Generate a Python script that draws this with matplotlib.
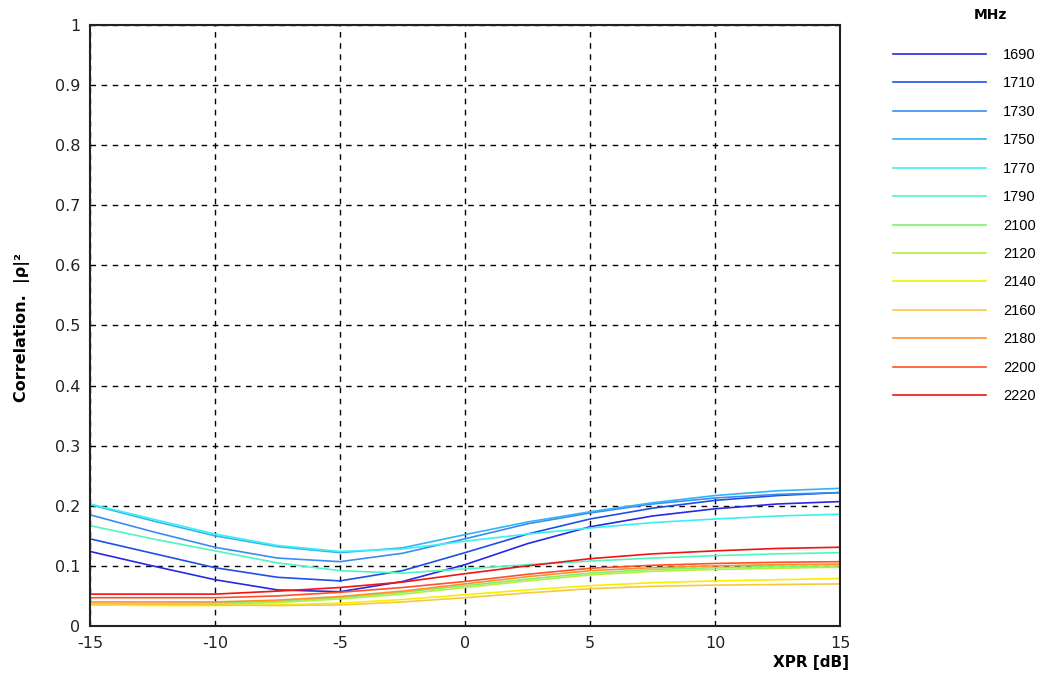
import numpy as np
import matplotlib
matplotlib.use('Agg')
from matplotlib import pyplot as plt

plt.rcParams['axes.unicode_minus'] = False

# XPR axis samples [dB]
xpr = [-15, -12.5, -10, -7.5, -5, -2.5, 0, 2.5, 5, 7.5, 10, 12.5, 15]

freqs = ['1690', '1710', '1730', '1750', '1770', '1790',
         '2100', '2120', '2140', '2160', '2180', '2200', '2220']

# correlation |rho|^2 for each frequency
rho_1690 = [0.124, 0.100, 0.077, 0.060, 0.057, 0.074, 0.102, 0.137, 0.165, 0.183, 0.195, 0.203, 0.207]
rho_1710 = [0.145, 0.121, 0.097, 0.081, 0.075, 0.092, 0.122, 0.153, 0.178, 0.196, 0.209, 0.217, 0.222]
rho_1730 = [0.185, 0.157, 0.131, 0.113, 0.107, 0.121, 0.145, 0.170, 0.188, 0.203, 0.213, 0.219, 0.222]
rho_1750 = [0.202, 0.175, 0.150, 0.132, 0.122, 0.130, 0.152, 0.173, 0.190, 0.205, 0.217, 0.225, 0.229]
rho_1770 = [0.203, 0.178, 0.153, 0.134, 0.124, 0.128, 0.141, 0.153, 0.163, 0.172, 0.178, 0.183, 0.186]
rho_1790 = [0.167, 0.145, 0.125, 0.105, 0.092, 0.088, 0.095, 0.102, 0.108, 0.113, 0.117, 0.120, 0.122]
rho_2100 = [0.037, 0.037, 0.038, 0.041, 0.047, 0.056, 0.067, 0.078, 0.088, 0.094, 0.097, 0.099, 0.100]
rho_2120 = [0.035, 0.035, 0.036, 0.039, 0.045, 0.053, 0.064, 0.075, 0.085, 0.091, 0.094, 0.096, 0.098]
rho_2140 = [0.035, 0.034, 0.034, 0.035, 0.038, 0.044, 0.052, 0.060, 0.067, 0.072, 0.075, 0.077, 0.079]
rho_2160 = [0.037, 0.036, 0.035, 0.034, 0.035, 0.040, 0.047, 0.055, 0.062, 0.066, 0.068, 0.069, 0.070]
rho_2180 = [0.040, 0.040, 0.040, 0.043, 0.049, 0.058, 0.070, 0.082, 0.092, 0.097, 0.100, 0.102, 0.103]
rho_2200 = [0.047, 0.047, 0.047, 0.050, 0.056, 0.064, 0.074, 0.086, 0.096, 0.101, 0.104, 0.106, 0.107]
rho_2220 = [0.053, 0.053, 0.053, 0.058, 0.064, 0.073, 0.087, 0.100, 0.112, 0.120, 0.125, 0.129, 0.131]

series = [rho_1690, rho_1710, rho_1730, rho_1750, rho_1770, rho_1790,
          rho_2100, rho_2120, rho_2140, rho_2160, rho_2180, rho_2200, rho_2220]

colors = ['#2828e6', '#1e50e8', '#3c8cf0', '#32b4f5', '#3cf0f0', '#50f5c0',
          '#80f070', '#b4f03c', '#f5f000', '#f8c83c', '#ff9030', '#ff5028', '#f01414']

xticks = [-15, -10, -5, 0, 5, 10, 15]
yticks = [0, 0.1, 0.2, 0.3, 0.4, 0.5, 0.6, 0.7, 0.8, 0.9, 1]
ytick_labels = ['0', '0.1', '0.2', '0.3', '0.4', '0.5', '0.6', '0.7', '0.8', '0.9', '1']

fig = plt.figure(figsize=(10.4, 6.81), dpi=100)
ax = fig.add_axes([0.0865, 0.0808, 0.7212, 0.8825])

for y, c, f in zip(series, colors, freqs):
    ax.plot(xpr, y, color=c, lw=1.2, label=f)

ax.set_xlim(-15, 15)
ax.set_ylim(0, 1)
ax.set_xticks(xticks)
ax.set_yticks(yticks)
ax.set_yticklabels(ytick_labels)
ax.tick_params(length=0, pad=7, labelsize=11.5, labelcolor='#222222')
ax.grid(True, color='black', linestyle=(0, (4, 4)), linewidth=1.0)
for s in ax.spines.values():
    s.set_linewidth(1.5)
    s.set_color('#222222')

ax.set_ylabel('Correlation.  |\u03c1|\u00b2', fontweight='bold', fontsize=11.5)
ax.yaxis.set_label_coords(-0.08, 0.496)
fig.text(811 / 1040, 1 - 663 / 681, 'XPR [dB]', fontweight='bold',
         fontsize=11, ha='center', va='center')

fig.text(990 / 1040, 1 - 15 / 681, 'MHz', fontweight='bold',
         fontsize=10, ha='center', va='center')
leg = fig.legend(loc='upper left', bbox_to_anchor=(893 / 1040, 1 - 48 / 681),
                 frameon=False, handlelength=6.4, handletextpad=1.15,
                 labelspacing=0.99, borderpad=0, borderaxespad=0,
                 prop={'family': 'Liberation Sans', 'size': 10.5})

fig.savefig('out.png', dpi=100)
